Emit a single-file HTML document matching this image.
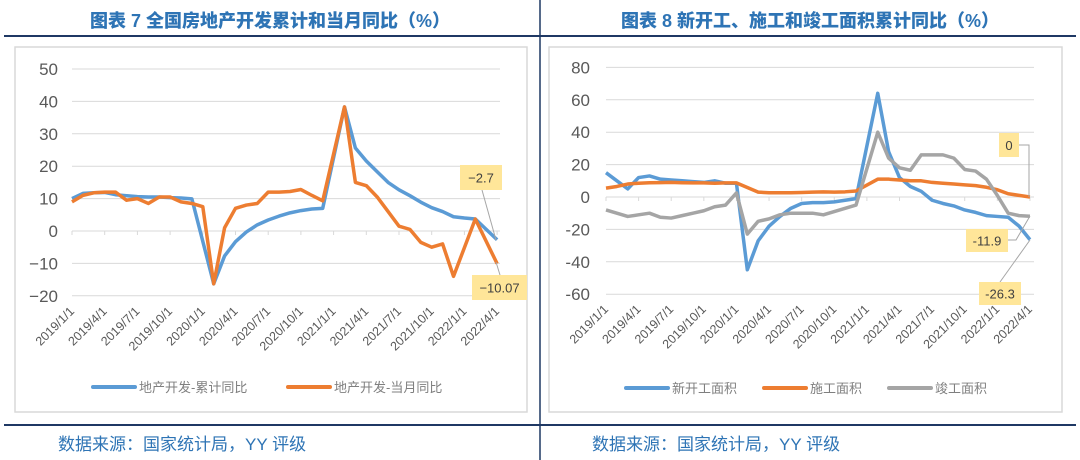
<!DOCTYPE html>
<html><head><meta charset="utf-8"><style>
html,body{margin:0;padding:0;background:#fff;}
svg{display:block;font-family:"Liberation Sans","Noto Sans CJK SC",sans-serif;}
</style></head><body>
<svg id="s" width="1080" height="460" viewBox="0 0 1080 460" xmlns="http://www.w3.org/2000/svg">
<rect width="1080" height="460" fill="#fff"/>
<text x="270" y="27" text-anchor="middle" font-size="18" font-weight="900" fill="#2E74B5">图表 7 全国房地产开发累计和当月同比（%）</text>
<text x="810" y="27" text-anchor="middle" font-size="18" font-weight="900" fill="#2E74B5">图表 8 新开工、施工和竣工面积累计同比（%）</text>
<line x1="4" y1="36" x2="540" y2="36" stroke="#1F3864" stroke-width="2"/>
<line x1="540" y1="36" x2="1076" y2="36" stroke="#1F3864" stroke-width="2"/>
<line x1="4" y1="425" x2="540" y2="425" stroke="#1F3864" stroke-width="2"/>
<line x1="540" y1="425" x2="1076" y2="425" stroke="#1F3864" stroke-width="2"/>
<line x1="540" y1="0" x2="540" y2="460" stroke="#1F3864" stroke-width="1.5"/>
<rect x="15" y="47" width="512" height="365" fill="#fff" stroke="#d9d9d9" stroke-width="1.5"/>
<rect x="549" y="47" width="513" height="365" fill="#fff" stroke="#d9d9d9" stroke-width="1.5"/>
<text x="58" y="450" font-size="17" fill="#2E74B5">数据来源：国家统计局，YY 评级</text>
<text x="592" y="450" font-size="17" fill="#2E74B5">数据来源：国家统计局，YY 评级</text>
<g id="g1"></g><g id="g2"></g>
</svg>
<script>
const NS="http://www.w3.org/2000/svg";
function el(p,t,a,txt){const e=document.createElementNS(NS,t);for(const k in a)e.setAttribute(k,a[k]);if(txt!==undefined)e.textContent=txt;p.appendChild(e);return e;}
function chart(g,o){
 const X=i=>o.x0+i*o.dx, Y=v=>o.y0-v*o.sy;
 for(let v=o.min;v<=o.max;v+=o.step){
  el(g,'line',{x1:o.gx1,x2:o.gx2,y1:Y(v),y2:Y(v),stroke:'#d9d9d9','stroke-width':1});
  el(g,'text',{x:o.lx,y:Y(v)+6,'text-anchor':'end','font-size':17,fill:'#595959'},v<0?(o.minus+Math.abs(v)):v);
 }
 for(let i=0;i<=39;i+=3){
  el(g,'line',{x1:X(i),x2:X(i),y1:Y(0),y2:Y(0)+4,stroke:'#d9d9d9'});
 }
 const labs=['2019/1/1','2019/4/1','2019/7/1','2019/10/1','2020/1/1','2020/4/1','2020/7/1','2020/10/1','2021/1/1','2021/4/1','2021/7/1','2021/10/1','2022/1/1','2022/4/1'];
 labs.forEach((l,k)=>{const x=X(k*3)+3,y=o.labY;
  el(g,'text',{x:x,y:y,'text-anchor':'end','font-size':12.5,fill:'#595959',transform:`rotate(-45 ${x} ${y})`},l);});
 o.series.forEach(s=>{
  el(g,'polyline',{points:s.d.map(p=>X(p[0])+','+Y(p[1])).join(' '),fill:'none',stroke:s.c,'stroke-width':3.5,'stroke-linejoin':'round'});
 });
 o.leg.forEach(L=>{
  el(g,'line',{x1:L.x,x2:L.x+42,y1:o.legY,y2:o.legY,stroke:L.c,'stroke-width':4,'stroke-linecap':'round'});
  el(g,'text',{x:L.x+46,y:o.legY+5,'font-size':13,fill:'#7f7f7f'},L.t);
 });
 o.ann.forEach(A=>{
  if(A.l) el(g,'polyline',{points:A.l,fill:'none',stroke:'#a6a6a6','stroke-width':1});
  el(g,'rect',{x:A.x,y:A.y,width:A.w,height:A.h,fill:'#FFE699'});
  el(g,'text',{x:A.x+A.w/2,y:A.y+A.h/2+5,'text-anchor':'middle','font-size':13,fill:'#404040'},A.t);
 });
}
chart(document.getElementById('g1'),{x0:72,dx:10.9,y0:231,sy:3.24,min:-20,max:50,step:10,gx1:72,gx2:500,lx:58,minus:'−',labY:312,legY:387,
 series:[
 {c:'#5B9BD5',d:[[0,10],[1,11.6],[2,11.8],[3,11.9],[4,11.2],[5,10.9],[6,10.6],[7,10.5],[8,10.5],[9,10.3],[10,10.2],[11,9.9],[13,-16.3],[14,-7.7],[15,-3.3],[16,-0.3],[17,1.9],[18,3.4],[19,4.6],[20,5.6],[21,6.3],[22,6.8],[23,7.0],[25,38.3],[26,25.6],[27,21.6],[28,18.3],[29,15.0],[30,12.7],[31,10.9],[32,8.9],[33,7.2],[34,6.0],[35,4.4],[36,4.0],[37,3.7],[39,-2.7]]},
 {c:'#ED7D31',d:[[0,9],[1,11],[2,11.8],[3,12],[4,12],[5,9.5],[6,10],[7,8.5],[8,10.5],[9,10.5],[10,9],[11,8.5],[12,7.5],[13,-16.3],[14,1],[15,7],[16,8],[17,8.5],[18,12],[19,12],[20,12.2],[21,12.8],[22,11],[23,9.3],[25,38.3],[26,15],[27,14],[28,10.5],[29,6],[30,1.5],[31,0.5],[32,-3.5],[33,-5],[34,-4],[35,-14],[37,3.7],[39,-10.07]]}],
 leg:[{x:93,c:'#5B9BD5',t:'地产开发-累计同比'},{x:288,c:'#ED7D31',t:'地产开发-当月同比'}],
 ann:[{x:460,y:165,w:42,h:25,t:'−2.7',l:'482,190 496,240'},{x:472,y:275,w:55,h:25,t:'−10.07',l:'496,262 500,275'}]});
chart(document.getElementById('g2'),{x0:606,dx:10.87,y0:197,sy:1.62,min:-60,max:80,step:20,gx1:606,gx2:1034,lx:590,minus:'-',labY:310,legY:388,
 series:[
 {c:'#5B9BD5',d:[[0,15],[1,10],[2,5],[3,12],[4,13],[5,11],[6,10.5],[7,10],[8,9.5],[9,9],[10,10],[11,8.5],[12,8.5],[13,-44.9],[14,-27],[15,-18],[16,-12],[17,-7],[18,-4],[19,-3.5],[20,-3.5],[21,-3],[22,-2],[23,-1],[25,64],[26,28],[27,12],[28,6.5],[29,3.5],[30,-2],[31,-4],[32,-5.5],[33,-8],[34,-9.5],[35,-11.5],[36,-12],[37,-12.5],[38,-18],[39,-26.3]]},
 {c:'#ED7D31',d:[[0,5.5],[1,6.5],[2,8],[3,8.5],[4,8.8],[5,8.9],[6,9],[7,8.8],[8,8.7],[9,8.7],[10,8.5],[11,8.7],[12,8.7],[14,3],[15,2.6],[16,2.6],[17,2.6],[18,2.8],[19,3],[20,3.2],[21,3],[22,3.2],[23,3.7],[25,11],[26,11],[27,10.5],[28,10],[29,10],[30,9],[31,8.5],[32,8],[33,7.5],[34,7],[35,6],[36,4.5],[37,2],[38,1],[39,0]]},
 {c:'#A5A5A5',d:[[0,-8],[1,-10],[2,-12],[3,-11],[4,-10],[5,-12.5],[6,-13],[7,-11.5],[8,-10],[9,-8.5],[10,-6],[11,-5],[12,2.5],[13,-22.9],[14,-15],[15,-13.5],[16,-11],[17,-10],[18,-10],[19,-10],[20,-11],[21,-9],[22,-7],[23,-5],[25,40],[26,24],[27,18],[28,16.5],[29,26],[30,26],[31,26],[32,24],[33,17],[34,16],[35,11],[36,1],[37,-10],[38,-11.5],[39,-11.9]]}],
 leg:[{x:626,c:'#5B9BD5',t:'新开工面积'},{x:764,c:'#ED7D31',t:'施工面积'},{x:889,c:'#A5A5A5',t:'竣工面积'}],
 ann:[{x:999,y:133,w:20,h:24,t:'0',l:'1019,145 1029,145 1029,197'},{x:966,y:229,w:42,h:23,t:'-11.9',l:'1008,240 1016,240 1030,216'},{x:979,y:282,w:42,h:23,t:'-26.3',l:'1000,282 1030,240'}]});
</script>
</body></html>
